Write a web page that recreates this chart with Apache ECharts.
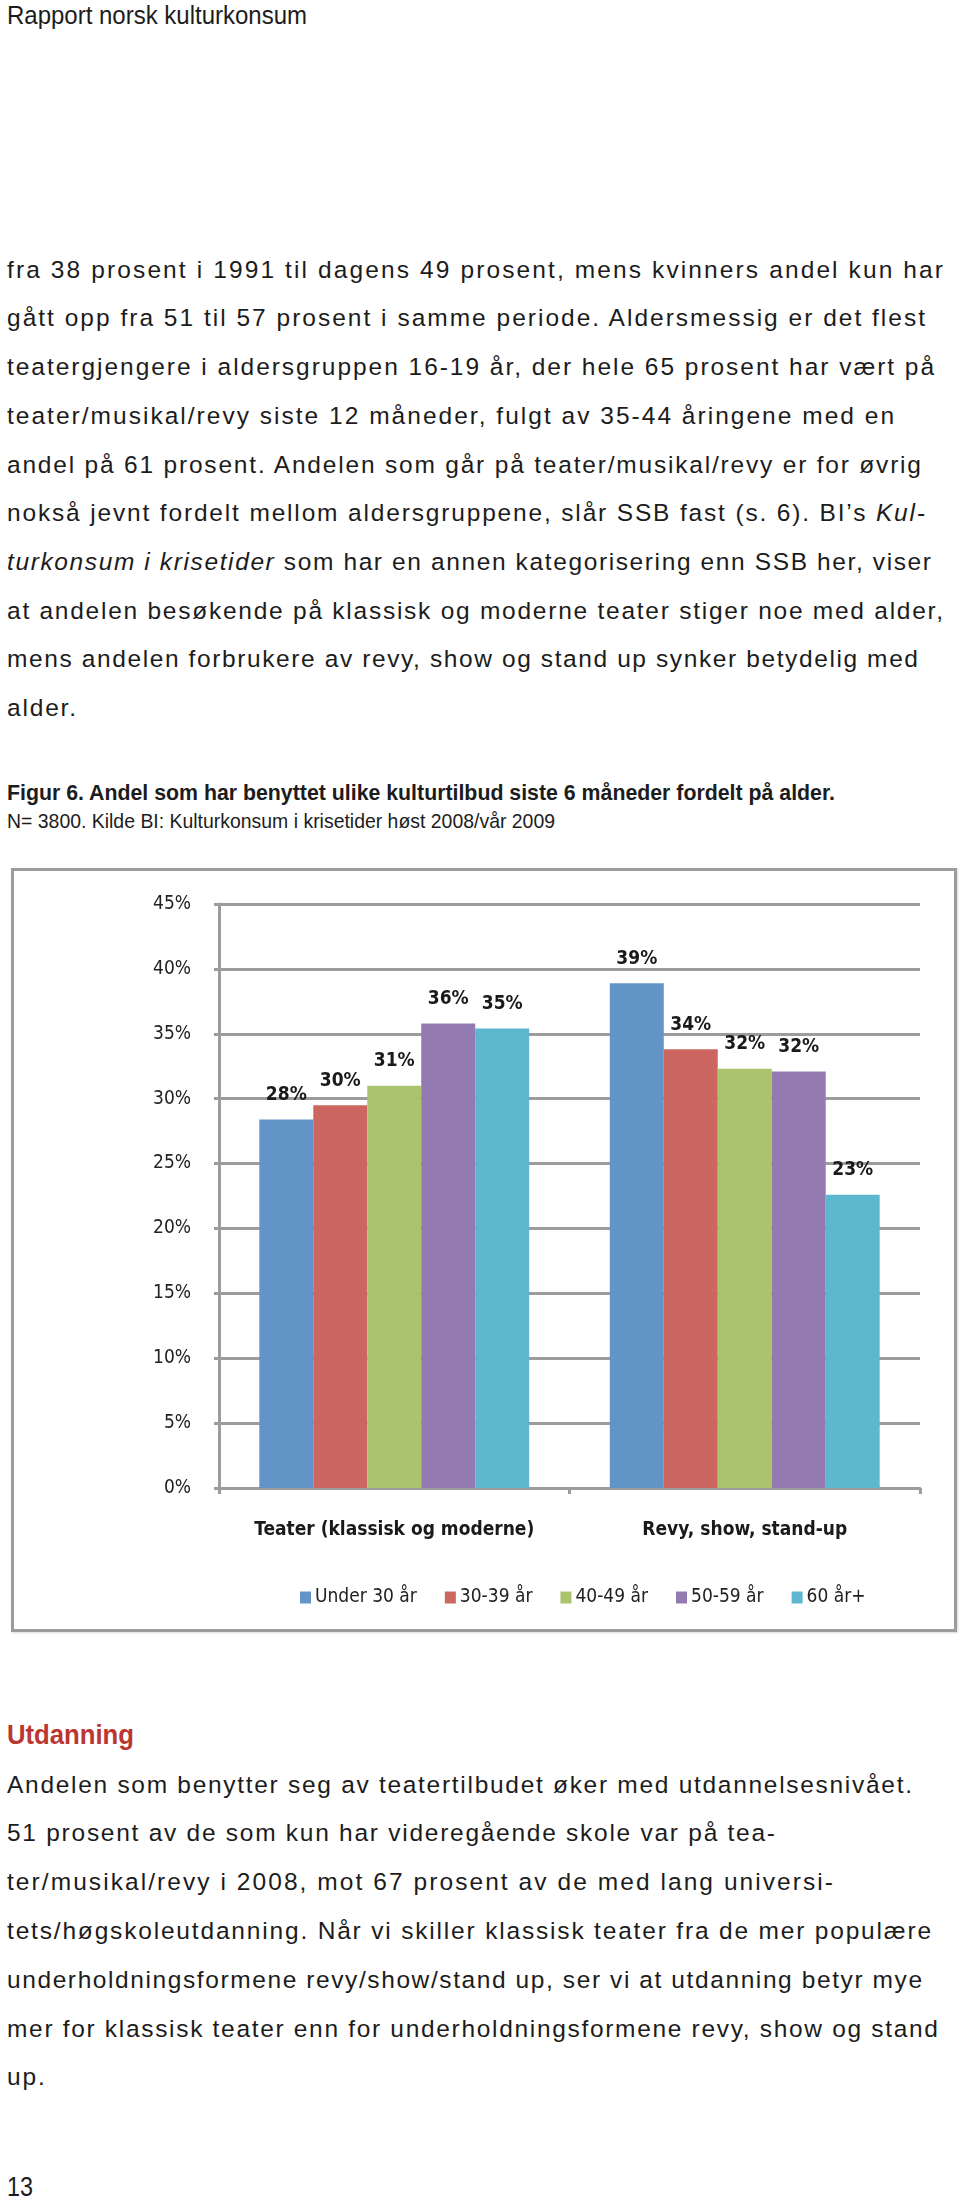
<!DOCTYPE html>
<html>
<head>
<meta charset="utf-8">
<script src="https://cdn.jsdelivr.net/npm/echarts@6/dist/echarts.min.js"></script>
<style>
  html, body { margin: 0; padding: 0; background: #fff; }
  body { width: 960px; height: 2199px; position: relative; overflow: hidden; color: #1c1c1c; }
  .ln { position: absolute; left: 7px; white-space: nowrap; }
  .body { font-family: 'Liberation Sans', Arial, sans-serif; font-size: 24.5px; height: 48.7px; line-height: 48.7px; }
  .sx { font-family: 'Liberation Sans', Arial, sans-serif; transform-origin: 0 50%; }
  #box { position: absolute; left: 11px; top: 868px; width: 946px; height: 764px; box-sizing: border-box; border: 3px solid #9c9c9c; box-shadow: 1px 1px 2px rgba(0,0,0,0.15); }
  #chart { position: absolute; left: 0; top: 860px; width: 960px; height: 780px; }
</style>
</head>
<body>
<div class="ln sx" data-w="300" style="top:0px;font-size:25px;line-height:30px;">Rapport norsk kulturkonsum</div>

<div class="ln body fit" data-w="936" style="top:245.7px">fra 38 prosent i 1991 til dagens 49 prosent, mens kvinners andel kun har</div>
<div class="ln body fit" data-w="918" style="top:294.4px">gått opp fra 51 til 57 prosent i samme periode. Aldersmessig er det flest</div>
<div class="ln body fit" data-w="927" style="top:343.1px">teatergjengere i aldersgruppen 16-19 år, der hele 65 prosent har vært på</div>
<div class="ln body fit" data-w="887" style="top:391.8px">teater/musikal/revy siste 12 måneder, fulgt av 35-44 åringene med en</div>
<div class="ln body fit" data-w="914" style="top:440.5px">andel på 61 prosent. Andelen som går på teater/musikal/revy er for øvrig</div>
<div class="ln body fit" data-w="918" style="top:489.2px">nokså jevnt fordelt mellom aldersgruppene, slår SSB fast (s. 6). BI’s <i>Kul-</i></div>
<div class="ln body fit" data-w="924" style="top:537.9px"><i>turkonsum i krisetider</i> som har en annen kategorisering enn SSB her, viser</div>
<div class="ln body fit" data-w="936" style="top:586.6px">at andelen besøkende på klassisk og moderne teater stiger noe med alder,</div>
<div class="ln body fit" data-w="911" style="top:635.3px">mens andelen forbrukere av revy, show og stand up synker betydelig med</div>
<div class="ln body" style="top:684px">alder.</div>

<div class="ln sx" data-w="828" style="top:778px;font-size:22px;line-height:30px;font-weight:bold;">Figur 6. Andel som har benyttet ulike kulturtilbud siste 6 måneder fordelt på alder.</div>
<div class="ln sx" data-w="548" style="top:806px;font-size:21px;line-height:30px;">N= 3800. Kilde BI: Kulturkonsum i krisetider høst 2008/vår 2009</div>

<div id="box"></div>
<div id="chart"></div>

<div class="ln sx" data-w="127" style="top:1717px;font-size:28px;line-height:36px;font-weight:bold;color:#bb3630;">Utdanning</div>

<div class="ln body fit" data-w="905" style="top:1760.6px">Andelen som benytter seg av teatertilbudet øker med utdannelsesnivået.</div>
<div class="ln body fit" data-w="768" style="top:1809.4px">51 prosent av de som kun har videregående skole var på tea-</div>
<div class="ln body fit" data-w="826" style="top:1858.2px">ter/musikal/revy i 2008, mot 67 prosent av de med lang universi-</div>
<div class="ln body fit" data-w="924" style="top:1907px">tets/høgskoleutdanning. Når vi skiller klassisk teater fra de mer populære</div>
<div class="ln body fit" data-w="915" style="top:1955.8px">underholdningsformene revy/show/stand up, ser vi at utdanning betyr mye</div>
<div class="ln body fit" data-w="931" style="top:2004.6px">mer for klassisk teater enn for underholdningsformene revy, show og stand</div>
<div class="ln body" style="top:2053.4px">up.</div>

<div class="ln sx" data-w="26" style="top:2169px;font-size:28px;line-height:36px;">13</div>

<script>
// ---- Data ----
const categories = ['Teater (klassisk og moderne)', 'Revy, show, stand-up'];
const ageGroups = ['Under 30 år', '30-39 år', '40-49 år', '50-59 år', '60 år+'];
const under30 = [28.4, 38.9];
const age30to39 = [29.5, 33.8];
const age40to49 = [31.0, 32.3];
const age50to59 = [35.8, 32.1];
const age60plus = [35.4, 22.6];
const seriesValues = [under30, age30to39, age40to49, age50to59, age60plus];
const colors = ['#6394c7', '#cb6660', '#a9c46c', '#937bb2', '#5db8cf'];

const NARROW = "'DejaVu Sans Condensed', 'Liberation Sans', sans-serif";

const chart = echarts.init(document.getElementById('chart'), null, { renderer: 'canvas' });
chart.setOption({
  animation: false,
  color: colors,
  grid: { left: 219, right: 40, top: 44, height: 584, containLabel: false },
  legend: {
    left: 295, top: 723,
    itemWidth: 11, itemHeight: 12, itemGap: 28,
    icon: 'rect',
    textStyle: { fontFamily: NARROW, fontSize: 19, color: '#222', padding: [0, 0, 0, -1] },
    data: ageGroups
  },
  xAxis: {
    type: 'category',
    data: categories,
    axisLine: { lineStyle: { color: '#9c9c9c', width: 3 } },
    axisTick: { show: true, length: 6, lineStyle: { color: '#9c9c9c', width: 3 } },
    axisLabel: { interval: 0, margin: 33, fontFamily: NARROW, fontSize: 19, fontWeight: 'bold', color: '#1a1a1a' }
  },
  yAxis: {
    type: 'value', min: 0, max: 45, interval: 5,
    axisLine: { show: true, lineStyle: { color: '#9c9c9c', width: 3 } },
    axisTick: { show: true, length: 5, lineStyle: { color: '#9c9c9c', width: 3 } },
    splitLine: { lineStyle: { color: '#9c9c9c', width: 3 } },
    axisLabel: { margin: 28, formatter: '{value}%', fontFamily: NARROW, fontSize: 19, color: '#222' }
  },
  series: ageGroups.map((name, i) => ({
    name: name,
    type: 'bar',
    data: seriesValues[i],
    barGap: '0%',
    barCategoryGap: '23%',
    label: {
      show: true, position: 'top', distance: 15,
      fontFamily: NARROW, fontSize: 19, fontWeight: 'bold', color: '#1a1a1a',
      formatter: p => Math.round(p.value) + '%'
    }
  }))
});

function textWidth(el) {
  const r = document.createRange();
  r.selectNodeContents(el);
  return r.getBoundingClientRect().width;
}
function fitLines() {
  document.querySelectorAll('.fit').forEach(el => {
    el.style.letterSpacing = '0px';
    const w = textWidth(el);
    const n = el.textContent.length;
    const ls = (parseFloat(el.dataset.w) - w) / Math.max(1, n - 1);
    el.style.letterSpacing = ls.toFixed(3) + 'px';
  });
  const bodyFits = Array.from(document.querySelectorAll('.body.fit'));
  const avg = bodyFits.reduce((s, e) => s + parseFloat(e.style.letterSpacing), 0) / bodyFits.length;
  document.querySelectorAll('.body:not(.fit)').forEach(e => e.style.letterSpacing = avg.toFixed(3) + 'px');
  document.querySelectorAll('.sx').forEach(el => {
    el.style.transform = 'none';
    const w = textWidth(el);
    el.style.transform = 'scaleX(' + (parseFloat(el.dataset.w) / w).toFixed(4) + ')';
  });
}
fitLines();
if (document.fonts && document.fonts.ready) { document.fonts.ready.then(fitLines); }
</script>
</body>
</html>
